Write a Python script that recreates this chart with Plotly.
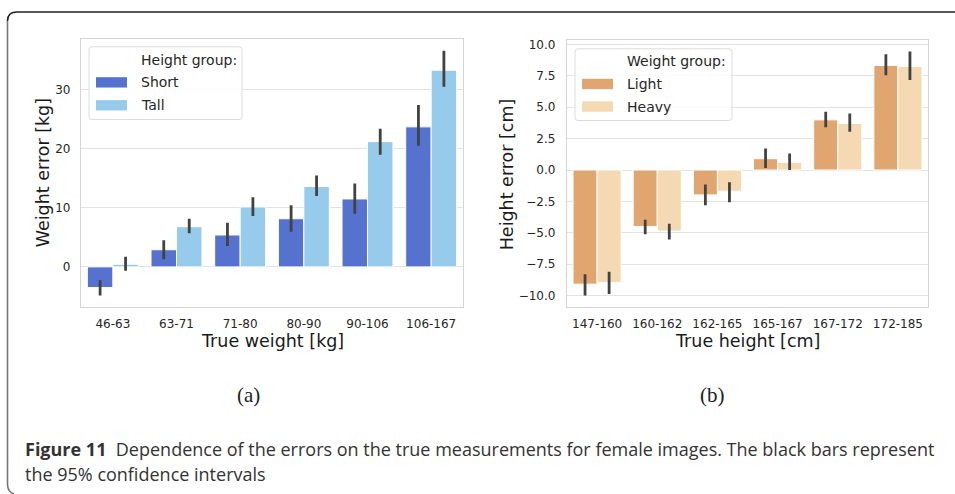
import plotly.graph_objects as go

# ---- data: weight error by true-weight bin (panel a) ----
weight_bins = ["46-63", "63-71", "71-80", "80-90", "90-106", "106-167"]
short_err = [-3.5, 2.9, 5.4, 8.15, 11.5, 23.7]
short_lo = [-4.85, 1.3, 3.55, 5.95, 9.0, 20.5]
short_hi = [-2.25, 4.5, 7.45, 10.45, 14.1, 27.4]
tall_err = [0.45, 6.8, 10.15, 13.6, 21.2, 33.3]
tall_lo = [-0.65, 5.7, 8.6, 12.0, 19.0, 30.5]
tall_hi = [1.7, 8.15, 11.8, 15.45, 23.4, 36.6]

# ---- data: height error by true-height bin (panel b) ----
height_bins = ["147-160", "160-162", "162-165", "165-167", "167-172", "172-185"]
light_err = [-9.08, -4.49, -1.98, 0.9, 3.99, 8.32]
light_lo = [-9.98, -5.12, -2.8, 0.16, 3.41, 7.53]
light_hi = [-8.29, -3.96, -1.16, 1.72, 4.63, 9.22]
heavy_err = [-8.95, -4.86, -1.69, 0.61, 3.7, 8.24]
heavy_lo = [-9.87, -5.52, -2.56, 0.0, 3.04, 7.16]
heavy_hi = [-8.1, -4.28, -0.97, 1.32, 4.49, 9.43]

W, H = 955, 494
FONT = "DejaVu Sans"
TXT = "#262626"
COLORS = {"Short": "#5572CE", "Tall": "#96CBEC", "Light": "#E1A570", "Heavy": "#F5D9B2"}


def px_x(p):
    return p / W


def px_y(p):
    return 1 - p / H


def err(vals, lo, hi):
    return dict(type="data", symmetric=False,
                array=[h - v for v, h in zip(vals, hi)],
                arrayminus=[v - l for v, l in zip(vals, lo)],
                color="#424242", thickness=2.8, width=0)


fig = go.Figure()

series = [
    ("Short", weight_bins, short_err, short_lo, short_hi, "x", "y"),
    ("Tall", weight_bins, tall_err, tall_lo, tall_hi, "x", "y"),
    ("Light", height_bins, light_err, light_lo, light_hi, "x2", "y2"),
    ("Heavy", height_bins, heavy_err, heavy_lo, heavy_hi, "x2", "y2"),
]

for name, cats, vals, lo, hi, xa, ya in series:
    fig.add_trace(go.Bar(
        x=cats, y=vals, name=name, xaxis=xa, yaxis=ya,
        marker=dict(color=COLORS[name], line=dict(color="white", width=1)),
        error_y=err(vals, lo, hi), offsetgroup=name, showlegend=False,
    ))

axis_common = dict(showline=True, mirror=True, linecolor="#d4d4d4", linewidth=1.3,
                   zeroline=False, ticks="", tickfont=dict(family=FONT, size=12, color=TXT))
grid = dict(showgrid=True, gridcolor="#e3e3e3", gridwidth=1)

fig.update_layout(
    width=W, height=H,
    margin=dict(l=0, r=0, t=0, b=0),
    paper_bgcolor="white", plot_bgcolor="white",
    barmode="group", bargap=0.2, bargroupgap=0,
    showlegend=False,
    font=dict(family=FONT, color=TXT),
    xaxis=dict(domain=[px_x(81), px_x(463)], anchor="y", type="category",
               range=[-0.5, 5.5], showgrid=False, ticklabelstandoff=6, **axis_common),
    yaxis=dict(domain=[px_y(306), px_y(37)], anchor="x", range=[-6.75, 38.6],
               tickvals=[0, 10, 20, 30], ticklabelstandoff=7, **axis_common, **grid),
    xaxis2=dict(domain=[px_x(567), px_x(928)], anchor="y2", type="category",
                range=[-0.5, 5.5], showgrid=False, ticklabelstandoff=6, **axis_common),
    yaxis2=dict(domain=[px_y(306), px_y(37.7)], anchor="x2", range=[-10.88, 10.38],
                tickvals=[-10, -7.5, -5, -2.5, 0, 2.5, 5, 7.5, 10], tickformat=".1f",
                ticklabelstandoff=8, **axis_common, **grid),
)


# ---- legends (boxed, title above wide colour patches) ----
def rounded_box(x0, y0, x1, y1, r=3):
    return (f"M {px_x(x0 + r)},{px_y(y0)} L {px_x(x1 - r)},{px_y(y0)} "
            f"Q {px_x(x1)},{px_y(y0)} {px_x(x1)},{px_y(y0 + r)} "
            f"L {px_x(x1)},{px_y(y1 - r)} Q {px_x(x1)},{px_y(y1)} {px_x(x1 - r)},{px_y(y1)} "
            f"L {px_x(x0 + r)},{px_y(y1)} Q {px_x(x0)},{px_y(y1)} {px_x(x0)},{px_y(y1 - r)} "
            f"L {px_x(x0)},{px_y(y0 + r)} Q {px_x(x0)},{px_y(y0)} {px_x(x0 + r)},{px_y(y0)} Z")


leg_font = dict(family=FONT, size=14, color=TXT)


def draw_legend(box, title, names, patch_x, text_x, title_y, item_ys):
    x0, y0, x1, y1 = box
    fig.add_shape(type="path", xref="paper", yref="paper", path=rounded_box(x0, y0, x1, y1),
                  fillcolor="rgba(255,255,255,0.85)", line=dict(color="#dcdcdc", width=1))
    fig.add_annotation(text=title, xref="paper", yref="paper", x=px_x(text_x), y=px_y(title_y),
                       showarrow=False, xanchor="left", yanchor="middle", font=leg_font)
    for nm, yc in zip(names, item_ys):
        fig.add_shape(type="rect", xref="paper", yref="paper",
                      x0=px_x(patch_x[0]), x1=px_x(patch_x[1]),
                      y0=px_y(yc + 5.2), y1=px_y(yc - 5.2),
                      fillcolor=COLORS[nm], line=dict(width=0))
        fig.add_annotation(text=nm, xref="paper", yref="paper", x=px_x(text_x), y=px_y(yc),
                           showarrow=False, xanchor="left", yanchor="middle", font=leg_font)


draw_legend((89, 45, 242, 118), "Height group:", ["Short", "Tall"],
            (96, 127), 139, 58, [80.7, 103.7])
draw_legend((575, 47, 732, 119), "Weight group:", ["Light", "Heavy"],
            (582, 613), 625, 59.5, [82.3, 105])

title_font = dict(family=FONT, size=17.5, color="#1a1a1a")
annotations = [
    dict(text="True weight [kg]", x=px_x(272), y=px_y(340)),
    dict(text="True height [cm]", x=px_x(747), y=px_y(340)),
    dict(text="Weight error [kg]", x=px_x(43), y=px_y(172), textangle=-90),
    dict(text="Height error [cm]", x=px_x(507), y=px_y(173), textangle=-90),
]
for a in annotations:
    fig.add_annotation(xref="paper", yref="paper", showarrow=False,
                       xanchor="center", yanchor="middle", font=title_font, **a)

# panel labels
for lab, cx in [("(a)", 248), ("(b)", 712)]:
    fig.add_annotation(text=lab, xref="paper", yref="paper", x=px_x(cx), y=px_y(395),
                       showarrow=False, xanchor="center", yanchor="middle",
                       font=dict(family="Liberation Serif", size=21, color="#222222"))

# figure caption
cap_font = dict(family="Open Sans", size=18, color="#333333")
fig.add_annotation(
    text="<b>Figure 11</b>  Dependence of the errors on the true measurements for female images. "
         "The black bars represent",
    xref="paper", yref="paper", x=px_x(23), y=px_y(449), showarrow=False,
    xanchor="left", yanchor="middle", font=cap_font)
fig.add_annotation(
    text="the 95% confidence intervals",
    xref="paper", yref="paper", x=px_x(23), y=px_y(474), showarrow=False,
    xanchor="left", yanchor="middle", font=cap_font)

# rounded frame around the figure
fig.add_shape(type="path", xref="paper", yref="paper",
              path=f"M {px_x(960)},{px_y(10)} L {px_x(17)},{px_y(10)} "
                   f"Q {px_x(7.5)},{px_y(10)} {px_x(7.5)},{px_y(19)}",
              line=dict(color="#222222", width=1.6))
fig.add_shape(type="path", xref="paper", yref="paper",
              path=f"M {px_x(7.5)},{px_y(19)} L {px_x(7.5)},{px_y(484)} "
                   f"Q {px_x(7.5)},{px_y(492)} {px_x(14)},{px_y(494)}",
              line=dict(color="#777777", width=1.6))

fig.write_html("out.html")
